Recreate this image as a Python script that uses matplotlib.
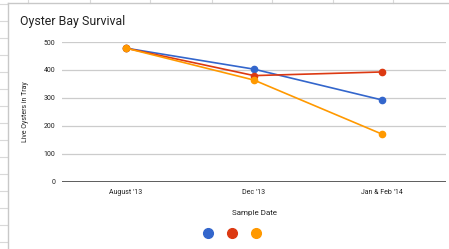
import matplotlib
matplotlib.use('Agg')
import matplotlib.pyplot as plt
from matplotlib.lines import Line2D

plt.rcParams['font.family'] = ['Roboto', 'DejaVu Sans']

# data
dates = ["August '13", "Dec '13", "Jan & Feb '14"]
tray_blue = [478, 403, 293]
tray_red = [478, 380, 393]
tray_orange = [478, 364, 171]
colors = ['#3366CC', '#DC3912', '#FF9900']
yticks = [0, 100, 200, 300, 400, 500]

fig = plt.figure(figsize=(4.49, 2.49), dpi=100)

# spreadsheet cells behind the chart
for yy in range(0, 249, 17):
    fig.add_artist(Line2D([0, 7 / 449], [1 - (yy + 4) / 249] * 2, color='#d9d9d9', lw=0.8))
for xx in [28, 90, 150, 212, 272, 333, 393]:
    fig.add_artist(Line2D([xx / 449] * 2, [1, 1 - 3 / 249], color='#d9d9d9', lw=0.8))
fig.add_artist(Line2D([7.5 / 449] * 2, [0, 1 - 3 / 249], color='#c8c8c8', lw=1))
fig.add_artist(Line2D([7.5 / 449, 1], [1 - 3 / 249] * 2, color='#c8c8c8', lw=1))

ax = fig.add_axes([62 / 449, 1 - 182 / 249, 384 / 449, 140 / 249])
x = range(len(dates))
for vals, c in zip([tray_blue, tray_red, tray_orange], colors):
    ax.plot(x, vals, color=c, lw=1.2, marker='o', markersize=4.5, zorder=3)

ax.set_xlim(-0.5, len(dates) - 0.5)
ax.set_ylim(0, 500)
ax.set_yticks(yticks)
ax.set_xticks(list(x))
ax.set_xticklabels(dates)
ax.tick_params(length=0, labelsize=5, colors='#222222')
ax.tick_params(axis='y', pad=5)
ax.tick_params(axis='x', pad=5)
ax.grid(axis='y', color='#cccccc', lw=0.9)
for s in ax.spines.values():
    s.set_visible(False)
ax.axhline(0, color='#333333', lw=1.1, zorder=2)
ax.set_ylabel('Live Oysters in Tray', fontsize=5, color='#222222', labelpad=10)
ax.set_xlabel('Sample Date', fontsize=5.8, color='#222222', labelpad=10)

fig.text(20 / 449, 1 - 22 / 249, 'Oyster Bay Survival', fontsize=8.9, color='#222222', va='center')

handles = [Line2D([], [], ls='none', marker='o', markersize=7, color=c) for c in colors]
fig.legend(handles, ['', '', ''], ncol=3, loc='center', bbox_to_anchor=(232 / 449, 1 - 234 / 249),
           frameon=False, handlelength=0.5, handletextpad=0, columnspacing=1.25)

fig.savefig('out.png', dpi=100)
